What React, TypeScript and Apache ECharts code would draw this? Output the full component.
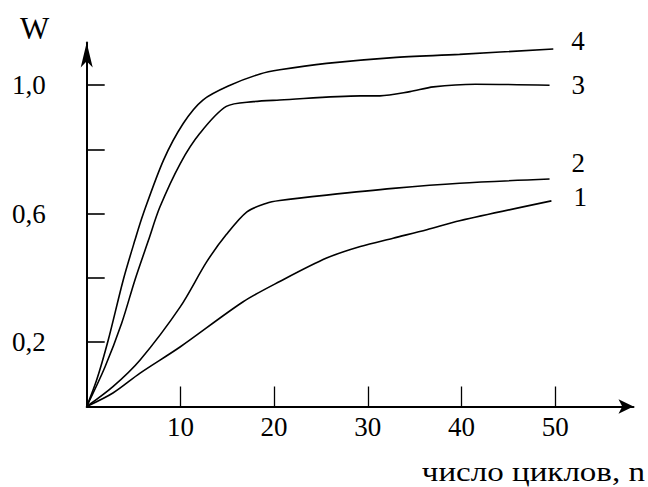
import React, { useEffect, useRef } from "react";
import * as echarts from "echarts";

// Curve data: [n, W]
const curve1: [number, number][] = [
  [0, 0], [2.8, 0.042], [5.7, 0.104], [10, 0.186], [16.7, 0.326], [20.6, 0.389],
  [25.6, 0.462], [29.2, 0.498], [32.7, 0.524], [36.3, 0.55], [39.8, 0.578], [49.6, 0.64],
];
const curve2: [number, number][] = [
  [0, 0], [2.8, 0.062], [5.7, 0.145], [10, 0.311], [12.8, 0.45], [14.9, 0.535],
  [17.1, 0.606], [19.2, 0.633], [20.6, 0.641], [25.6, 0.658], [32.7, 0.679],
  [39.8, 0.695], [49.4, 0.708],
];
const curve3: [number, number][] = [
  [0, 0], [1.95, 0.123], [3.74, 0.26], [5.15, 0.394], [6.6, 0.518], [7.8, 0.62],
  [10, 0.757], [12.1, 0.851], [14.9, 0.934], [17.8, 0.949], [20.6, 0.954],
  [29.2, 0.967], [31.3, 0.967], [34.5, 0.98], [37, 0.995], [41.5, 1.003], [49.4, 1.0],
];
const curve4: [number, number][] = [
  [0, 0], [1.07, 0.083], [2.3, 0.207], [3.9, 0.394], [5.15, 0.518], [6.04, 0.6],
  [8.2, 0.767], [10.3, 0.881], [12.4, 0.954], [15.3, 1.0], [18.5, 1.035], [20.6, 1.048],
  [25.6, 1.068], [32.7, 1.086], [39.8, 1.096], [49.8, 1.113],
];
const curveNames = ["1", "2", "3", "4"];
const xTickValues = [10, 20, 30, 40, 50];
const yTickValues = [0.2, 0.4, 0.6, 0.8, 1.0];
const yLabelValues = [0.2, 0.6, 1.0];
const xAxisTitle = "число циклов, n";
const yAxisTitle = "W";

const FONT = "Liberation Serif";

export default function App() {
  const ref = useRef<HTMLDivElement>(null);
  useEffect(() => {
    if (!ref.current) return;
    const chart = echarts.init(ref.current, null, { renderer: "svg" });
    const curves = [curve1, curve2, curve3, curve4];
    const offsets: [number, number][] = [
      [14, -4],
      [14, -16],
      [14, 0],
      [10, -8],
    ];
    chart.setOption({
      animation: false,
      backgroundColor: "#ffffff",
      grid: { left: 86.7, right: 14.5, top: 42.5, bottom: 80.5 },
      xAxis: {
        type: "value",
        min: 0,
        max: 58.36,
        splitLine: { show: false },
        axisLine: {
          show: true,
          lineStyle: { color: "#000", width: 2 },
          symbol: ["none", "arrow"],
          symbolSize: [11, 15],
        },
        axisTick: {
          show: true,
          inside: true,
          length: 20,
          customValues: xTickValues,
          lineStyle: { color: "#000", width: 1.3 },
        },
        axisLabel: {
          customValues: xTickValues,
          margin: 7,
          color: "#000",
          fontFamily: FONT,
          fontSize: 27,
        },
      },
      yAxis: {
        type: "value",
        min: 0,
        max: 1.133,
        splitLine: { show: false },
        axisLine: {
          show: true,
          lineStyle: { color: "#000", width: 2 },
          symbol: ["none", "arrow"],
          symbolSize: [9, 25],
        },
        axisTick: {
          show: true,
          inside: true,
          length: 18,
          customValues: yTickValues,
          lineStyle: { color: "#000", width: 1.6 },
        },
        axisLabel: {
          customValues: yLabelValues,
          margin: 41,
          color: "#000",
          fontFamily: FONT,
          fontSize: 27,
          formatter: (v: number) => v.toFixed(1).replace(".", ","),
        },
      },
      graphic: [
        {
          type: "text",
          x: 20,
          y: 13,
          style: { text: yAxisTitle, fill: "#000", font: `31px '${FONT}'` },
        },
        {
          type: "text",
          x: 645,
          y: 458,
          scaleX: 1.18,
          style: { text: xAxisTitle, fill: "#000", font: `28px '${FONT}'`, align: "right" },
        },
      ],
      series: curves.map((d, i) => ({
        type: "line",
        name: curveNames[i],
        data: d,
        smooth: 0.3,
        showSymbol: false,
        symbol: "none",
        lineStyle: { color: "#000", width: 1.6 },
        endLabel: {
          show: true,
          formatter: curveNames[i],
          color: "#000",
          fontFamily: FONT,
          fontSize: 27,
          offset: offsets[i],
        },
      })),
    });
    return () => chart.dispose();
  }, []);
  return (
    <div
      ref={ref}
      style={{ position: "fixed", left: 0, top: 0, width: 648, height: 487, background: "#fff" }}
    />
  );
}
